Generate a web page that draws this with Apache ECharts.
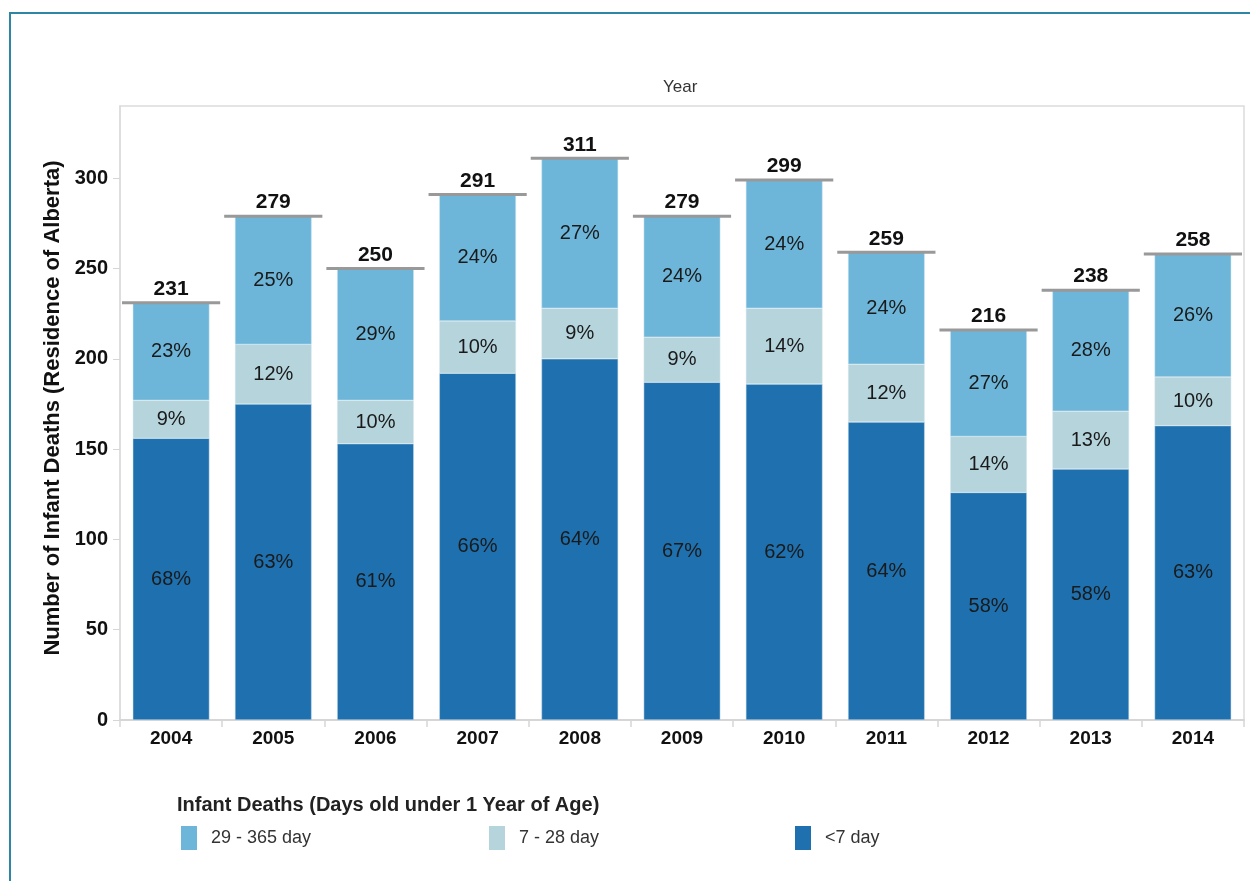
<!DOCTYPE html>
<html>
<head>
<meta charset="utf-8">
<script src="https://cdn.jsdelivr.net/npm/echarts@6/dist/echarts.min.js"></script>
<style>
  html, body { margin: 0; padding: 0; background: #fff; }
  #chart { width: 1250px; height: 881px; }
</style>
</head>
<body>
<div id="chart"></div>
<script>
// data
const years = ['2004', '2005', '2006', '2007', '2008', '2009', '2010', '2011', '2012', '2013', '2014'];
const under7 = [156, 175, 153, 192, 200, 187, 186, 165, 126, 139, 163];
const d7to28 = [21, 33, 24, 29, 28, 25, 42, 32, 31, 32, 27];
const d29to365 = [54, 71, 73, 70, 83, 67, 71, 62, 59, 67, 68];
const yTicks = [0, 50, 100, 150, 200, 250, 300];

const totals = years.map((y, i) => under7[i] + d7to28[i] + d29to365[i]);

const colors = {
    late: '#6db6d9',
    mid: '#b5d4dc',
    early: '#1f70ae'
};
const font = 'Liberation Sans, Arial, sans-serif';

const pctLabel = {
    show: true,
    position: 'inside',
    fontFamily: font,
    fontSize: 20,
    color: '#1a1a1a',
    formatter: p => Math.round(p.value / totals[p.dataIndex] * 100) + '%'
};

const legendBase = {
    padding: 0,
    itemWidth: 16,
    itemHeight: 24,
    icon: 'rect',
    itemStyle: { borderWidth: 0 },
    textStyle: { fontSize: 18, color: '#333', fontFamily: font, padding: [0, 0, 0, 9] }
};

const chart = echarts.init(document.getElementById('chart'));
const option = {
    animation: false,
    textStyle: { fontFamily: font },
    grid: {
        left: 120,
        right: 6,
        top: 106,
        bottom: 161,
        show: true,
        borderColor: '#dcdcdc',
        borderWidth: 1.5
    },
    graphic: [
        {
            type: 'rect',
            shape: { x: 10, y: 13, width: 1260, height: 900 },
            style: { fill: 'none', stroke: '#2e86a3', lineWidth: 2 }
        },
        {
            type: 'text',
            left: 663,
            top: 79,
            style: { text: 'Year', font: '17px ' + font, fill: '#333' }
        },
        {
            type: 'text',
            left: 177,
            top: 795,
            style: { text: 'Infant Deaths (Days old under 1 Year of Age)', font: 'bold 20px ' + font, fill: '#222' }
        }
    ],
    legend: [
        Object.assign({ data: ['29 - 365 day'], left: 181, top: 826 }, legendBase),
        Object.assign({ data: ['7 - 28 day'], left: 489, top: 826 }, legendBase),
        Object.assign({ data: ['<7 day'], left: 795, top: 826 }, legendBase)
    ],
    xAxis: {
        type: 'category',
        data: years,
        axisLine: { lineStyle: { color: '#d6d6d6', width: 2 } },
        axisTick: { show: true, length: 7, lineStyle: { color: '#d6d6d6', width: 1.5 } },
        axisLabel: { fontFamily: font, fontSize: 19, fontWeight: 'bold', color: '#111', margin: 9 }
    },
    yAxis: {
        type: 'value',
        min: 0,
        max: 340,
        interval: 50,
        name: 'Number of Infant Deaths (Residence of Alberta)',
        nameLocation: 'middle',
        nameGap: 54,
        nameTextStyle: { fontFamily: font, fontSize: 22, fontWeight: 'bold', color: '#111', padding: [0, 0, 0, 10] },
        axisLine: { show: true, lineStyle: { color: '#dcdcdc', width: 1.5 } },
        axisTick: { show: true, length: 7, lineStyle: { color: '#d6d6d6' } },
        splitLine: { show: false },
        axisLabel: {
            fontFamily: font, fontSize: 20, fontWeight: 'bold', color: '#111', margin: 12,
            showMaxLabel: false,
            formatter: v => yTicks.indexOf(v) >= 0 ? String(v) : ''
        }
    },
    series: [
        {
            name: '<7 day',
            type: 'bar',
            stack: 'deaths',
            barCategoryGap: '25%',
            data: under7,
            itemStyle: { color: colors.early, borderColor: '#c9dcea', borderWidth: 0.5 },
            label: pctLabel
        },
        {
            name: '7 - 28 day',
            type: 'bar',
            stack: 'deaths',
            data: d7to28,
            itemStyle: { color: colors.mid, borderColor: '#d8e8ee', borderWidth: 0.5 },
            label: pctLabel
        },
        {
            name: '29 - 365 day',
            type: 'bar',
            stack: 'deaths',
            data: d29to365,
            itemStyle: { color: colors.late, borderColor: '#cfe4f0', borderWidth: 0.5 },
            label: pctLabel
        },
        {
            name: 'total',
            type: 'custom',
            data: totals.map((t, i) => [i, t]),
            encode: { x: 0, y: 1 },
            z: 5,
            renderItem: (params, api) => {
                const pt = api.coord([api.value(0), api.value(1)]);
                const w = api.size([1, 0])[0];
                return {
                    type: 'group',
                    children: [
                        {
                            type: 'line',
                            shape: { x1: pt[0] - w / 2 + 2, y1: pt[1], x2: pt[0] + w / 2 - 2, y2: pt[1] },
                            style: { stroke: '#999', lineWidth: 3 }
                        },
                        {
                            type: 'text',
                            x: pt[0],
                            y: pt[1] - 3,
                            style: {
                                text: String(api.value(1)),
                                font: 'bold 21px ' + font,
                                fill: '#111',
                                align: 'center',
                                verticalAlign: 'bottom'
                            }
                        }
                    ]
                };
            }
        }
    ]
};
chart.setOption(option);
</script>
</body>
</html>
